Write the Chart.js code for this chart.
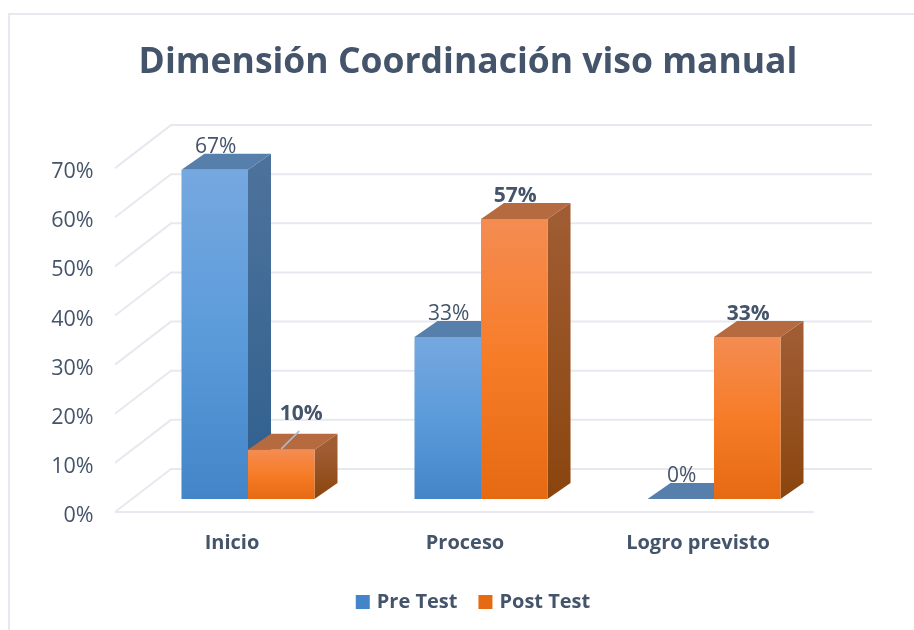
<!DOCTYPE html>
<html>
<head>
<meta charset="utf-8">
<script src="https://cdn.jsdelivr.net/npm/chart.js@4"></script>
<style>
  html, body { margin: 0; background: #fff; }
  #frame { position: absolute; left: 8px; top: 13px; width: 906px; height: 617px;
           border-left: 2px solid #e6e9ef; border-top: 2px solid #e6e9ef; box-sizing: border-box; }
  #wrap { position: absolute; left: 0; top: 0; width: 914px; height: 630px; }
</style>
</head>
<body>
<div id="frame"></div>
<div id="wrap"><canvas id="myChart" width="914" height="630"></canvas></div>
<script>
//data
const categories = ['Inicio', 'Proceso', 'Logro previsto'];
const preTest = [67, 33, 0];
const postTest = [10, 57, 33];
const seriesNames = ['Pre Test', 'Post Test'];

const textColor = '#44546A';
const fontName = '"Open Sans", sans-serif';

// fake 3D depth, in pixels
const barDepth = { x: 23, y: 16 };
const wall = { frontX: -16.5, frontY: 13, backX: 39.5, backY: 30, backRight: 41.5 };

const blueFront = ['#76A8E0', '#5B9BDA', '#4385C8'];
const orangeFront = ['#F48C52', '#F77C28', '#E66A12'];
const blueSide = ['#4C729B', '#2F5F8E'];
const orangeSide = ['#A05C32', '#8A450E'];
const blueTop = '#567FAC';
const orangeTop = '#B66A40';

function vGrad(ctx, y0, y1, stops) {
  const g = ctx.createLinearGradient(0, y0, 0, y1 === y0 ? y0 + 1 : y1);
  stops.forEach((c, i) => g.addColorStop(i / (stops.length - 1), c));
  return g;
}

function frontFill(stops, legendTop) {
  return function (c) {
    const ctx = c.chart.ctx;
    if (c.type !== 'data') return vGrad(ctx, legendTop, legendTop + 14, stops);
    const s = c.chart.scales.y;
    const y0 = s.getPixelForValue(c.raw), y1 = s.getPixelForValue(0);
    if (!isFinite(y0) || !isFinite(y1)) return stops[1];
    return vGrad(ctx, y0, y1, stops);
  };
}

// walls and floor, then side and top faces of the bars
const box3d = {
  id: 'box3d',
  beforeDatasetsDraw(chart) {
    const ctx = chart.ctx, s = chart.scales.y, area = chart.chartArea;
    ctx.save();
    ctx.strokeStyle = '#E6E9EF';
    ctx.lineWidth = 2;
    s.ticks.forEach(t => {
      const y = s.getPixelForValue(t.value);
      ctx.beginPath();
      ctx.moveTo(area.left + wall.frontX, y + wall.frontY);
      ctx.lineTo(area.left + wall.backX, y - wall.backY);
      ctx.lineTo(area.right + wall.backRight, y - wall.backY);
      ctx.stroke();
    });
    const y0 = s.getPixelForValue(0) + wall.frontY;
    ctx.beginPath();
    ctx.moveTo(area.left + wall.frontX, y0);
    ctx.lineTo(area.right + wall.frontX, y0);
    ctx.stroke();

    [0, 1].forEach(d => {
      chart.getDatasetMeta(d).data.forEach(bar => {
        const l = bar.x - bar.width / 2, r = bar.x + bar.width / 2, top = bar.y, base = bar.base;
        const dx = barDepth.x, dy = barDepth.y;
        ctx.fillStyle = vGrad(ctx, top, base, d === 0 ? blueSide : orangeSide);
        if (base - top > 0) {
          ctx.beginPath();
          ctx.moveTo(r, top); ctx.lineTo(r + dx, top - dy);
          ctx.lineTo(r + dx, base - dy); ctx.lineTo(r, base);
          ctx.closePath(); ctx.fill();
        }
        ctx.fillStyle = d === 0 ? blueTop : orangeTop;
        ctx.beginPath();
        ctx.moveTo(l, top); ctx.lineTo(l + dx, top - dy);
        ctx.lineTo(r + dx, top - dy); ctx.lineTo(r, top);
        ctx.closePath(); ctx.fill();
      });
    });
    ctx.restore();
  },
  afterDatasetsDraw(chart) {
    const ctx = chart.ctx;
    ctx.save();
    ctx.textAlign = 'center';
    ctx.textBaseline = 'alphabetic';
    ctx.fillStyle = textColor;
    // Post Test, Inicio: label pulled out with a leader line
    const short = chart.getDatasetMeta(1).data[0];
    ctx.strokeStyle = '#AEBBCB';
    ctx.lineWidth = 1.5;
    ctx.beginPath();
    ctx.moveTo(short.x, short.y - 1);
    ctx.lineTo(short.x + 18, short.y - 19);
    ctx.stroke();
    [0, 1].forEach(d => {
      ctx.font = (d === 1 ? 'bold ' : '') + '21px ' + fontName;
      chart.getDatasetMeta(d).data.forEach((bar, i) => {
        const v = chart.data.datasets[d].data[i];
        const isShort = d === 1 && i === 0;
        const x = bar.x + (isShort ? 20 : 1);
        const y = bar.y - barDepth.y + (isShort ? -14 : -1);
        ctx.fillText(v + '%', x, y);
      });
    });
    ctx.restore();
  },
  afterLayout(chart) {
    chart.legend.left += 6.5;
    chart.legend.right += 6.5;
  }
};

const config = {
  type: 'bar',
  data: {
    labels: categories,
    datasets: [
      { label: seriesNames[0], data: preTest, backgroundColor: frontFill(blueFront, 594) },
      { label: seriesNames[1], data: postTest, backgroundColor: frontFill(orangeFront, 594) }
    ]
  },
  options: {
    responsive: false,
    animation: false,
    layout: { padding: { left: 22, right: 0, top: 0, bottom: 8 } },
    datasets: { bar: { barPercentage: 1, categoryPercentage: 0.571 } },
    plugins: {
      tooltip: { enabled: false },
      title: {
        display: true,
        text: 'Dimensión Coordinación viso manual',
        color: textColor,
        font: { family: fontName, size: 35.5, weight: 'bold', lineHeight: 1.2 },
        padding: { top: 41.5, bottom: 71 }
      },
      legend: {
        position: 'bottom',
        labels: {
          color: textColor,
          font: { family: fontName, size: 20, weight: 'bold' },
          boxWidth: 8,
          boxHeight: 8,
          padding: 24,
          // wide stroke brings the swatch to 14px but keeps it close to its text
          generateLabels(chart) {
            return Chart.defaults.plugins.legend.labels.generateLabels(chart).map(item => ({
              ...item, lineWidth: 6, strokeStyle: item.fillStyle
            }));
          }
        }
      }
    },
    scales: {
      x: {
        grid: { display: false },
        border: { display: false },
        ticks: { color: textColor, padding: 24, labelOffset: -16, maxRotation: 0,
                 font: { family: fontName, size: 20, weight: 'bold' } },
        afterFit(s) { s.height = 69; }
      },
      y: {
        min: 0,
        max: 70,
        grid: { display: false },
        border: { display: false },
        ticks: { stepSize: 10, color: textColor, padding: 30, labelOffset: 17,
                 callback: v => v + '%', font: { family: fontName, size: 21.5 } },
        afterFit(s) { s.width = 109.5; }
      },
      pad: {
        position: 'right',
        display: true,
        grid: { display: false },
        border: { display: false },
        ticks: { display: false },
        afterFit(s) { s.width = 83.5; }
      }
    }
  },
  plugins: [box3d]
};

const myChart = new Chart(document.getElementById('myChart'), config);
</script>
</body>
</html>
